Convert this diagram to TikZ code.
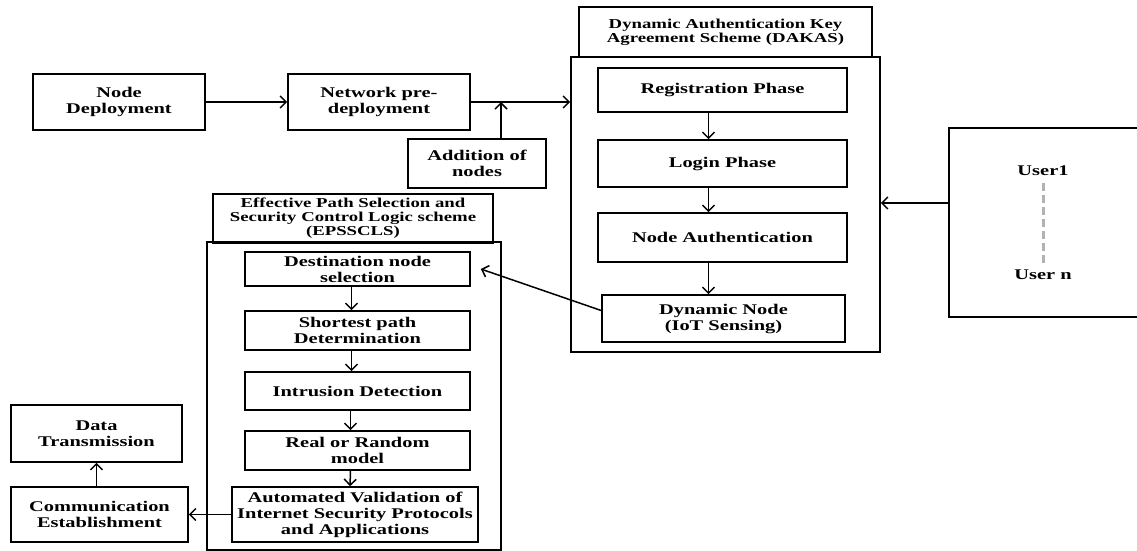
\documentclass[tikz,border=0pt]{standalone}
\usepackage{fontspec}
\setmainfont{Liberation Serif}[FakeStretch=1.38]
\usepackage{tikz}
\usetikzlibrary{arrows.meta,%
                positioning}

\begin{document}
\begin{tikzpicture}[x=1pt,y=-1pt,
  block/.style={draw,line width=1.6pt,align=center,inner sep=0pt,font=\bfseries\fontsize{14.8}{16}\selectfont},
  heading/.style={block,font=\bfseries\fontsize{13.6}{14}\selectfont},
  frame/.style={draw,line width=1.6pt,inner sep=0pt},
  flow/.style={-{Straight Barb[length=6pt,width=12pt,line width=1.5pt]},line width=1.5pt}]
\useasboundingbox (0,0) rectangle (1137,551);

\node[block,minimum width=172pt,minimum height=56pt] (nodedep) at (119,102) {Node\\Deployment};
\node[block,minimum width=182pt,minimum height=56pt] (netpre) at (379,102) {Network pre-\\deployment};
\node[block,minimum width=138pt,minimum height=49pt] (addnodes) at (477,163.5) {Addition of\\nodes};

\node[frame,minimum width=309pt,minimum height=295pt] (dakas) at (725.5,204.5) {};
\node[heading,minimum width=293pt,minimum height=50pt] (dakastitle) at (725.5,32) {Dynamic Authentication Key\\Agreement Scheme (DAKAS)};
\node[block,minimum width=249pt,minimum height=44pt] (reg) at (722.5,90) {Registration Phase};
\node[block,minimum width=249pt,minimum height=47pt] (login) at (722.5,163.5) {Login Phase};
\node[block,minimum width=249pt,minimum height=49pt] (nodeauth) at (722.5,237.5) {Node Authentication};
\node[block,minimum width=243pt,minimum height=47pt] (dynnode) at (723.5,318.5) {Dynamic Node\\(IoT Sensing)};

\node[frame,minimum width=230pt,minimum height=189pt] (users) at (1064,222.5) {};
\node[block,draw=none] (user1) at (1043,171) {User1};
\node[block,draw=none] (usern) at (1043,275) {User n};

\node[frame,minimum width=294pt,minimum height=308pt] (eps) at (354,396) {};
\node[heading,minimum width=280pt,minimum height=49pt] (epstitle) at (353,218.5) {Effective Path Selection and\\Security Control Logic scheme\\(EPSSCLS)};
\node[block,minimum width=225pt,minimum height=34pt] (dest) at (357.5,269) {Destination node\\selection};
\node[block,minimum width=225pt,minimum height=39pt] (shortest) at (357.5,330.5) {Shortest path\\Determination};
\node[block,minimum width=225pt,minimum height=38pt] (intrusion) at (357.5,391) {Intrusion Detection};
\node[block,minimum width=225pt,minimum height=39pt] (realrandom) at (357.5,450.5) {Real or Random\\model};
\node[block,minimum width=246pt,minimum height=55pt] (avispa) at (355,514.5) {Automated Validation of\\Internet Security Protocols\\and Applications};

\node[block,minimum width=171pt,minimum height=57pt] (datatx) at (96.5,433.5) {Data\\Transmission};
\node[block,minimum width=177pt,minimum height=55pt] (comm) at (99.5,514.5) {Communication\\Establishment};

\coordinate (joint) at (501,102);
\coordinate (userin) at (949,203);

\draw[flow] (nodedep) -- (netpre);
\draw[flow] (netpre.east) -- (netpre.east -| dakas.west);
\draw[flow] (addnodes.north -| joint) -- (joint);

\draw[flow] ([xshift=-14pt]reg.south) -- ([xshift=-14pt]login.north);
\draw[flow] ([xshift=-14pt]login.south) -- ([xshift=-14pt]nodeauth.north);
\draw[flow] ([xshift=-14pt]nodeauth.south) -- ([xshift=-15pt]dynnode.north);

\draw[flow] (userin) -- (userin -| dakas.east);
\draw[gray!60,line width=3pt,dash pattern=on 8pt off 4pt] ([yshift=-6pt]user1.south) -- ([yshift=5pt]usern.north);

\draw[flow] ([yshift=8pt]dynnode.west) -- ([xshift=10pt]dest.east);

\draw[flow] ([xshift=-6pt]dest.south) -- ([xshift=-6pt]shortest.north);
\draw[flow] ([xshift=-6pt]shortest.south) -- ([xshift=-6pt]intrusion.north);
\draw[flow] ([xshift=-7pt]intrusion.south) -- ([xshift=-7pt]realrandom.north);
\draw[flow] ([xshift=-7pt]realrandom.south) -- ([xshift=-5pt]avispa.north);

\draw[flow] (avispa) -- (comm);
\draw[flow] (comm.north -| datatx.south) -- (datatx.south);

\end{tikzpicture}
\end{document}
